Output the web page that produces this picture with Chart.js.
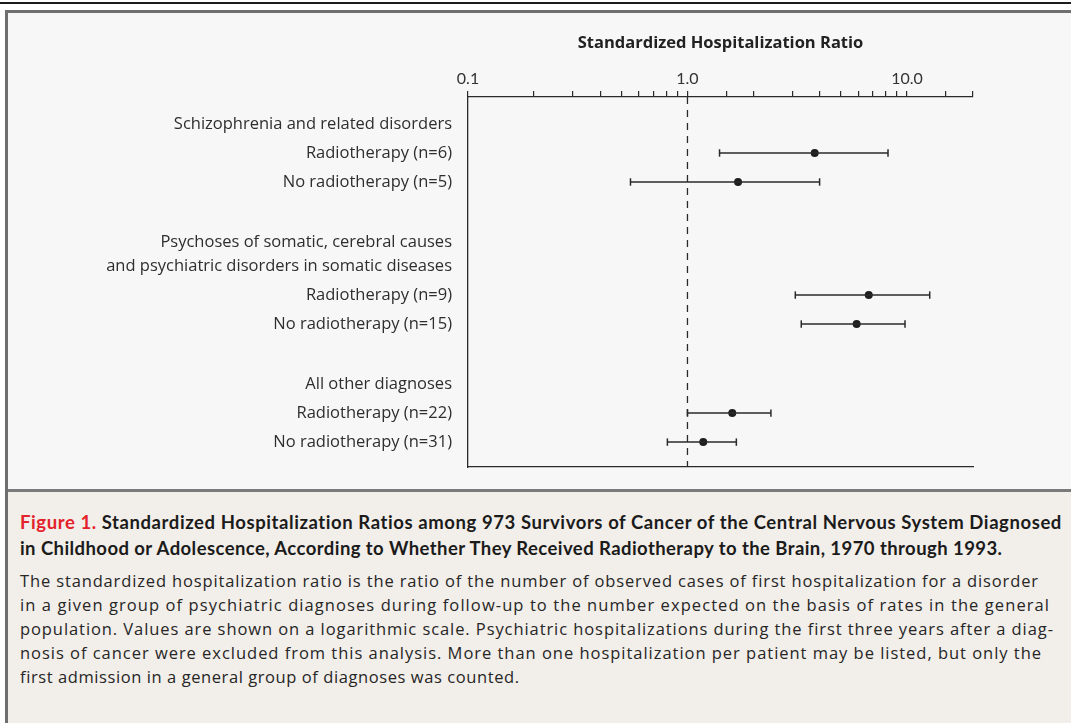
<!DOCTYPE html>
<html>
<head>
<meta charset="utf-8">
<script src="https://cdn.jsdelivr.net/npm/chart.js@4.4.0/dist/chart.umd.min.js"></script>
<style>
  html, body { margin: 0; padding: 0; background: #fff; }
  body { width: 1071px; height: 723px; position: relative; overflow: hidden; font-family: "Open Sans", sans-serif; }
  #rule { position: absolute; left: 0; top: 2px; width: 1071px; height: 2px; background: #1c1c1c; }
  #panel { position: absolute; left: 5px; top: 10px; width: 1080px; height: 710px; border: 3px solid #6f6f6f; background: #f7f7f7; }
  #caption { position: absolute; left: 8px; top: 489px; width: 1080px; height: 231px; border-top: 3px solid #7a7a7a; background: #f2eee9; }
  #chartBox { position: absolute; left: 0; top: 0; width: 1071px; height: 495px; }
  .cap { position: absolute; left: 12px; white-space: nowrap; }
  .head { font-family: "Lato", sans-serif; font-weight: bold; font-size: 18.5px; color: #1b1b1b; }
  .head .fig { color: #e3222b; }
  .txt { font-size: 16.5px; color: #262626; }
</style>
</head>
<body>
<div id="rule"></div>
<div id="panel"></div>
<div id="caption">
  <div class="cap head" data-w="1042" style="top:19px"><span class="fig">Figure 1.</span> Standardized Hospitalization Ratios among 973 Survivors of Cancer of the Central Nervous System Diagnosed</div>
  <div class="cap head" data-w="982" style="top:45px">in Childhood or Adolescence, According to Whether They Received Radiotherapy to the Brain, 1970 through 1993.</div>
  <div class="cap txt" data-w="1018" style="top:77px">The standardized hospitalization ratio is the ratio of the number of observed cases of first hospitalization for a disorder</div>
  <div class="cap txt" data-w="1029" style="top:101px">in a given group of psychiatric diagnoses during follow-up to the number expected on the basis of rates in the general</div>
  <div class="cap txt" data-w="1033" style="top:125px">population. Values are shown on a logarithmic scale. Psychiatric hospitalizations during the first three years after a diag-</div>
  <div class="cap txt" data-w="1021" style="top:149px">nosis of cancer were excluded from this analysis. More than one hospitalization per patient may be listed, but only the</div>
  <div class="cap txt" data-w="499" style="top:173px">first admission in a general group of diagnoses was counted.</div>
</div>
<div id="chartBox"><canvas id="chart" width="1071" height="495"></canvas></div>

<script>
// ---- data ----
const groupLabels = [
  ["Schizophrenia and related disorders"],
  ["Psychoses of somatic, cerebral causes", "and psychiatric disorders in somatic diseases"],
  ["All other diagnoses"]
];
const rowLabels = [
  "Radiotherapy (n=6)", "No radiotherapy (n=5)",
  "Radiotherapy (n=9)", "No radiotherapy (n=15)",
  "Radiotherapy (n=22)", "No radiotherapy (n=31)"
];
const ratio = [3.8, 1.7, 6.7, 5.9, 1.6, 1.18];
const lower = [1.4, 0.55, 3.1, 3.3, 1.0, 0.81];
const upper = [8.2, 4.0, 12.7, 9.8, 2.4, 1.67];
const xTickValues = [0.1, 1, 10];
const xTickLabels = ["0.1", "1.0", "10.0"];
const rowsPerGroup = 2;

// stretch caption lines to the measured widths of the original
document.querySelectorAll(".cap").forEach(el => {
  const target = +el.dataset.w;
  const n = el.textContent.length;
  const w = el.getBoundingClientRect().width;
  el.style.letterSpacing = ((target - w) / (n - 1)) + "px";
});

// ---- row positions (layout) ----
const ink = "#2a2a2a";
const lineGap = 0.83;   // spacing between lines of a two-line header
const groupGap = 2.07;  // from last row of a group to next header
const yTicks = [];
const rowPos = [];
let pos = 0;
groupLabels.forEach((g, gi) => {
  yTicks.push({ value: pos + (g.length - 1) * lineGap / 2, label: g });
  let p = pos + (g.length - 1) * lineGap;
  for (let r = 0; r < rowsPerGroup; r++) {
    p += 1;
    const i = gi * rowsPerGroup + r;
    rowPos.push(p);
    yTicks.push({ value: p, label: rowLabels[i] });
  }
  pos = p + groupGap;
});
const yMin = -0.93;
const yMax = rowPos[rowPos.length - 1] + 0.86;

// ---- datasets ----
const datasets = [];
datasets.push({
  type: "line",
  data: [{ x: 1, y: yMin }, { x: 1, y: yMax }],
  borderColor: ink,
  borderWidth: 1.3,
  borderDash: [7, 6],
  pointRadius: 0,
  xAxisID: "x", yAxisID: "y"
});
rowPos.forEach((p, i) => {
  datasets.push({
    type: "line",
    data: [{ x: lower[i], y: p }, { x: upper[i], y: p }],
    borderColor: ink,
    borderWidth: 1.5,
    pointStyle: "line",
    rotation: 90,
    pointRadius: 3.7,
    pointBorderWidth: 1.5,
    pointBorderColor: ink,
    xAxisID: "x", yAxisID: "y"
  });
});
datasets.push({
  type: "scatter",
  data: rowPos.map((p, i) => ({ x: ratio[i], y: p })),
  pointRadius: 4,
  pointBackgroundColor: "#1e1e1e",
  pointBorderWidth: 0,
  xAxisID: "x", yAxisID: "y"
});

function tickLabel(v) {
  for (let k = 0; k < xTickValues.length; k++) {
    if (Math.abs(v - xTickValues[k]) < 1e-9) return xTickLabels[k];
  }
  return "";
}

new Chart(document.getElementById("chart"), {
  type: "scatter",
  data: { datasets: datasets },
  options: {
    responsive: false,
    animation: false,
    events: [],
    layout: { padding: { left: 0, right: 98, top: 0, bottom: 0 } },
    plugins: { legend: { display: false }, tooltip: { enabled: false } },
    scales: {
      x: {
        type: "logarithmic",
        position: "top",
        min: 0.1,
        max: 20,
        title: {
          display: true,
          text: "Standardized Hospitalization Ratio",
          color: "#222",
          font: { family: "Open Sans", size: 16.5, weight: "bold" },
          padding: { top: 33, bottom: 0 }
        },
        ticks: {
          autoSkip: false,
          maxRotation: 0,
          padding: 3,
          color: "#333",
          font: { family: "Lato", size: 16 },
          callback: (v) => tickLabel(v)
        },
        grid: { drawOnChartArea: false, drawTicks: true, tickLength: 6, color: ink, lineWidth: 1.2 },
        border: { display: true, color: ink, width: 1.3 },
        afterFit: (s) => { s.height = 97; }
      },
      xb: {
        type: "logarithmic",
        position: "bottom",
        min: 0.1,
        max: 20,
        ticks: { display: false },
        grid: { display: false, drawTicks: false },
        border: { display: true, color: ink, width: 1.3 },
        afterFit: (s) => { s.height = 14; }
      },
      y: {
        type: "linear",
        reverse: true,
        min: yMin,
        max: yMax,
        afterBuildTicks: (s) => { s.ticks = yTicks.map(t => ({ value: t.value })); },
        ticks: {
          autoSkip: false,
          padding: 16,
          color: "#2e2e2e",
          font: { family: "Open Sans", size: 16.5, lineHeight: 1.45 },
          callback: (v) => {
            const t = yTicks.find(t => Math.abs(t.value - v) < 1e-9);
            return t ? t.label : "";
          }
        },
        grid: { display: false, drawTicks: false },
        border: { display: true, color: ink, width: 1.3 },
        afterFit: (s) => { s.width = 468; }
      }
    }
  }
});
</script>
</body>
</html>
